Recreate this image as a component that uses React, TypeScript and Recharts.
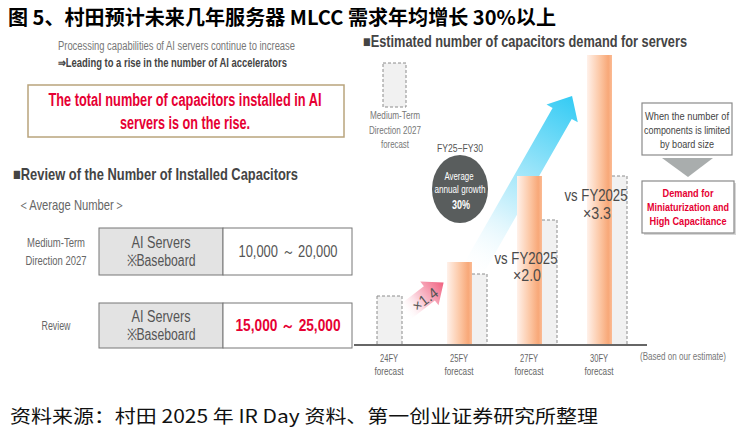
import { BarChart, Bar, XAxis, YAxis } from 'recharts';

// relative bar heights (FY2025 forecast = 83)
const categories = ['24FY', '25FY', '27FY', '30FY'];
const forecastValues: (number | null)[] = [null, 83, 169, 290];
const midTermValues = [49, 71, 125, 169];

const data = categories.map((fy, i) => ({ fy, forecast: forecastValues[i], midTerm: midTermValues[i] }));

const FONT = '"Liberation Sans Narrow", "Liberation Sans", Arial, sans-serif';
const CJK = '"Noto Sans CJK SC", "Noto Sans", sans-serif';
const RED = '#e60033';

const T = ({ x, y, children, size = 11, fill = '#555', weight = 400, anchor = 'middle', len, font = FONT, ...rest }: any) => (
  <text
    x={x}
    y={y}
    fontSize={size}
    fill={fill}
    fontWeight={weight}
    textAnchor={anchor}
    dominantBaseline="central"
    fontFamily={font}
    textLength={len}
    lengthAdjust={len ? 'spacingAndGlyphs' : undefined}
    {...rest}
  >
    {children}
  </text>
);

const MidTermShape = (props: any) => {
  const { x, y, width, height, payload } = props;
  if (!height) return null;
  const dx = payload.forecast != null ? 15 : 0;
  return (
    <rect x={x + dx} y={y} width={width} height={height} fill="#f1f1f1" stroke="#8c8c8c" strokeWidth={1} strokeDasharray="3 2" />
  );
};

const FyTick = ({ x, y, payload }: any) => (
  <g>
    <T x={x} y={y + 5} size={11} fill="#666" len={18}>{payload.value}</T>
    <T x={x} y={y + 18} size={11} fill="#666" len={29}>forecast</T>
  </g>
);

const Table = ({ y, h, value, valueColor, valueWeight, valueLen }: any) => (
  <g>
    <rect x={99} y={y} width={124} height={h} fill="#e3e3e3" stroke="#777" />
    <rect x={223} y={y} width={129} height={h} fill="#fff" stroke="#777" />
    <T x={161} y={y + h / 2 - 9} size={16} fill="#555" len={59}>AI Servers</T>
    <T x={161} y={y + h / 2 + 9} size={16} fill="#555" len={69}>※Baseboard</T>
    <T x={288} y={y + h / 2} size={16} fill={valueColor} weight={valueWeight} len={valueLen}>{value}</T>
  </g>
);

export default function App() {
  return (
    <div style={{ position: 'absolute', left: 0, top: 0, width: 748, height: 434, background: '#fff', overflow: 'hidden' }}>
      {/* arrows behind the bars */}
      <svg width={748} height={434} style={{ position: 'absolute', left: 0, top: 0 }}>
        <defs>
          <linearGradient id="blueArrow" gradientUnits="userSpaceOnUse" x1="0" y1="0" x2="206" y2="0">
            <stop offset="0" stopColor="#ffffff" stopOpacity="0" />
            <stop offset="0.3" stopColor="#e0f6fd" />
            <stop offset="1" stopColor="#34cbf4" />
          </linearGradient>
          <linearGradient id="pinkArrow" gradientUnits="userSpaceOnUse" x1="0" y1="0" x2="50" y2="0">
            <stop offset="0" stopColor="#ffffff" stopOpacity="0" />
            <stop offset="0.4" stopColor="#fbd0da" />
            <stop offset="1" stopColor="#f0607f" />
          </linearGradient>
        </defs>
        <g transform="translate(470 275) rotate(-60.3)">
          <polygon points="0,-11 186,-11 186,-18 206,0 186,18 186,11 0,11" fill="url(#blueArrow)" />
        </g>
        <g transform="translate(404 313) rotate(-37.6)">
          <polygon points="0,-9 32,-9 32,-15 50,0 32,15 32,9 0,9" fill="url(#pinkArrow)" />
        </g>
      </svg>

      <div style={{ position: 'absolute', left: 0, top: 0 }}>
        <BarChart width={748} height={434} data={data} margin={{ top: 45, right: 101, left: 354, bottom: 59 }} barGap={-25} barSize={25}>
          <defs>
            <linearGradient id="orangeGrad" x1="0" y1="0" x2="1" y2="0">
              <stop offset="0" stopColor="#fff1ea" />
              <stop offset="0.5" stopColor="#fcc8a6" />
              <stop offset="0.85" stopColor="#f8a878" />
              <stop offset="1" stopColor="#fbbb94" />
            </linearGradient>
          </defs>
          <XAxis dataKey="fy" height={30} axisLine={{ stroke: '#666', strokeWidth: 2 }} tickLine={false} tick={<FyTick />} padding={{ left: 0, right: 13 }} interval={0} />
          <YAxis hide type="number" domain={[0, 300]} />
          <Bar dataKey="midTerm" shape={<MidTermShape />} isAnimationActive={false} />
          <Bar dataKey="forecast" fill="url(#orangeGrad)" isAnimationActive={false} />
        </BarChart>
      </div>

      {/* text and annotations */}
      <svg width={748} height={434} style={{ position: 'absolute', left: 0, top: 0 }}>
        <T x={8} y={16} size={20} fill="#000" weight={700} anchor="start" font={CJK} len={548}>图 5、村田预计未来几年服务器 MLCC 需求年均增长 30%以上</T>

        {/* left panel */}
        <T x={58} y={46} size={12} fill="#777" anchor="start" len={237}>Processing capabilities of AI servers continue to increase</T>
        <T x={58} y={63} size={12} fill="#444" weight={700} anchor="start" len={229}>⇒Leading to a rise in the number of AI accelerators</T>
        <rect x={28} y={85} width={316} height={52} fill="#fff" stroke="#b9a47c" strokeWidth={1.5} />
        <T x={185} y={100} size={18} fill={RED} weight={700} len={273}>The total number of capacitors installed in AI</T>
        <T x={185} y={123} size={18} fill={RED} weight={700} len={130}>servers is on the rise.</T>

        <T x={13} y={174} size={17} fill="#444" weight={700} anchor="start" len={285}>■Review of the Number of Installed Capacitors</T>
        <T x={18} y={204} size={15} fill="#666" anchor="start" len={107}>＜Average Number＞</T>

        <T x={56} y={243} size={12} fill="#666" len={58}>Medium-Term</T>
        <T x={56} y={261} size={12} fill="#666" len={61}>Direction 2027</T>
        <Table y={228} h={47} value="10,000 ～ 20,000" valueColor="#555" valueWeight={400} valueLen={99} />

        <T x={56} y={326} size={12} fill="#666" len={29}>Review</T>
        <Table y={303} h={45} value="15,000 ～ 25,000" valueColor={RED} valueWeight={700} valueLen={105} />

        {/* right panel */}
        <T x={363} y={41} size={16} fill="#444" weight={700} anchor="start" len={324}>■Estimated number of capacitors demand for servers</T>
        <rect x={383} y={63} width={23} height={44} fill="#f1f1f1" stroke="#8c8c8c" strokeDasharray="3 2" />
        <T x={395} y={115} size={11} fill="#777" len={50}>Medium-Term</T>
        <T x={395} y={130} size={11} fill="#777" len={52}>Direction 2027</T>
        <T x={395} y={144} size={11} fill="#777" len={28}>forecast</T>

        <T x={460} y={148} size={11} fill="#555" len={46}>FY25−FY30</T>
        <ellipse cx={460} cy={189} rx={28} ry={34} fill="#595d5d" />
        <T x={459} y={176} size={11} fill="#fff" len={29}>Average</T>
        <T x={460} y={189} size={11} fill="#fff" len={51}>annual growth</T>
        <T x={461} y={204} size={13} fill="#fff" weight={700} len={18}>30%</T>

        <T x={425} y={299} size={15} fill="#555" len={28} transform="rotate(-37.6 425 299)">×1.4</T>

        <T x={526} y={258} size={16} fill="#4a4a4a" len={63}>vs FY2025</T>
        <T x={527} y={275} size={16} fill="#4a4a4a" len={28}>×2.0</T>
        <T x={596} y={195} size={16} fill="#4a4a4a" len={63}>vs FY2025</T>
        <T x={597} y={213} size={16} fill="#4a4a4a" len={28}>×3.3</T>

        <rect x={642} y={103} width={90} height={52} fill="#fff" stroke="#8a8a8a" strokeWidth={1.2} />
        <T x={687} y={116} size={11} fill="#444" len={84}>When the number of</T>
        <T x={687} y={130} size={11} fill="#444" len={86}>components is limited</T>
        <T x={687} y={144} size={11} fill="#444" len={54}>by board size</T>
        <polygon points="662,158 713,158 688,177" fill="#a9adad" />
        <rect x={644} y={183} width={92} height={52} fill="#d6d6d6" />
        <rect x={642} y={181} width={92} height={52} fill="#fff" stroke="#8a8a8a" strokeWidth={1.2} />
        <T x={688} y={193} size={11} fill={RED} weight={700} len={51}>Demand for</T>
        <T x={688} y={207} size={11} fill={RED} weight={700} len={82}>Miniaturization and</T>
        <T x={688} y={221} size={11} fill={RED} weight={700} len={77}>High Capacitance</T>

        <T x={640} y={356} size={11} fill="#777" anchor="start" len={86}>(Based on our estimate)</T>

        <T x={10} y={415} size={18} fill="#111" anchor="start" font={CJK} len={588}>资料来源：村田 2025 年 IR Day 资料、第一创业证券研究所整理</T>
      </svg>
    </div>
  );
}
